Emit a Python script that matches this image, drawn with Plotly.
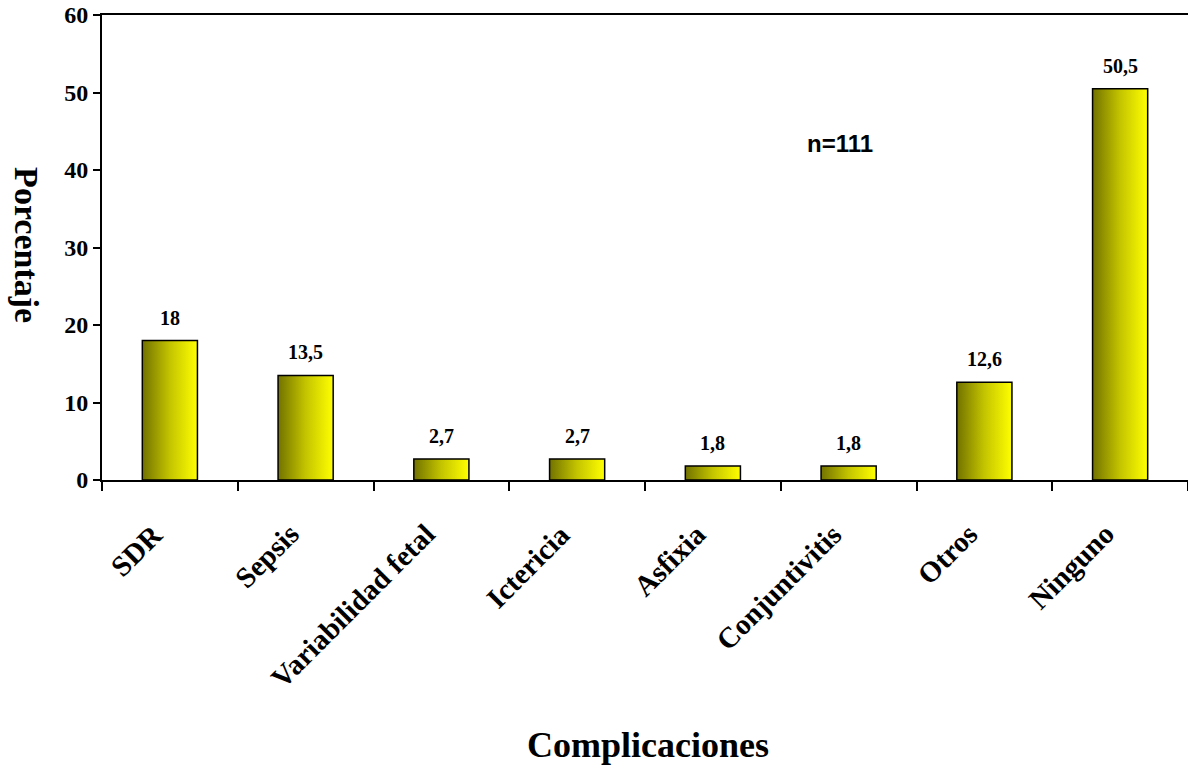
import plotly.graph_objects as go

categories = ["SDR", "Sepsis", "Variabilidad fetal", "Ictericia", "Asfixia",
              "Conjuntivitis", "Otros", "Ninguno"]
values = [18, 13.5, 2.7, 2.7, 1.8, 1.8, 12.6, 50.5]
value_labels = ["18", "13,5", "2,7", "2,7", "1,8", "1,8", "12,6", "50,5"]
y_ticks = [0, 10, 20, 30, 40, 50, 60]

SERIF = "Liberation Serif, Times New Roman, serif"
half_w = 0.203

fig = go.Figure()
# invisible bars on the categorical axis (defines category positions)
fig.add_trace(go.Bar(x=categories, y=values, marker=dict(color="rgba(0,0,0,0)"),
                     width=2 * half_w, hoverinfo="skip", showlegend=False))

# gradient-filled bars on an overlaid numeric axis
for i, v in enumerate(values):
    xs = [i - half_w, i + half_w, i + half_w, i - half_w, i - half_w]
    ys = [0, 0, v, v, 0]
    fig.add_trace(go.Scatter(
        x=xs, y=ys, xaxis="x2", mode="lines", fill="toself",
        fillgradient=dict(type="horizontal",
                          colorscale=[[0, "#727200"], [0.5, "#c4c400"], [1, "#ffff00"]]),
        line=dict(color="black", width=1.5), showlegend=False, hoverinfo="skip"))

for c, v, t in zip(categories, values, value_labels):
    fig.add_annotation(x=c, y=v, text=t, showarrow=False, yshift=23,
                       font=dict(family=SERIF, size=20, color="black", weight="bold"))

# rotated category labels
for c in categories:
    fig.add_annotation(x=c, y=0, text=c, showarrow=False, textangle=-45,
                       xanchor="right", yanchor="top", xshift=2, yshift=-35,
                       font=dict(family=SERIF, size=29, color="black", weight="bold"))

fig.add_annotation(xref="paper", yref="paper", x=0.6796, y=0.7247, text="n=111",
                   xanchor="center", yanchor="middle", showarrow=False,
                   font=dict(family="Liberation Sans, Arial", size=24, color="black", weight="bold"))
fig.add_annotation(xref="paper", yref="paper", x=-0.069, y=0.505, text="Porcentaje",
                   xanchor="center", yanchor="middle", textangle=90, showarrow=False,
                   font=dict(family=SERIF, size=34, color="black", weight="bold"))
fig.add_annotation(xref="paper", yref="paper", x=0.503, y=-0.570,
                   xanchor="center", yanchor="middle",
                   text="Complicaciones", showarrow=False,
                   font=dict(family=SERIF, size=36, color="black", weight="bold"))

fig.update_layout(
    width=1188, height=769,
    margin=dict(l=102, r=0, t=15, b=289),
    paper_bgcolor="white", plot_bgcolor="white",
    xaxis=dict(type="category", categoryarray=categories, range=[-0.5, 7.5],
               showline=True, linecolor="black", linewidth=2, mirror=True,
               ticks="outside", tickson="boundaries", ticklen=9, tickcolor="black",
               tickwidth=1.5, showgrid=False, showticklabels=False),
    xaxis2=dict(overlaying="x", range=[-0.5, 7.5], visible=False),
    yaxis=dict(range=[0, 60], tickvals=y_ticks, showline=True, linecolor="black",
               linewidth=2, ticks="outside", ticklen=7, tickwidth=1.5, tickcolor="black",
               showgrid=False, zeroline=False, ticklabeloverflow="allow",
               tickfont=dict(family=SERIF, size=24, color="black", weight="bold")),
)

fig.write_html("out.html", config={"displayModeBar": False},
               post_script="document.body.style.margin='0px';")
